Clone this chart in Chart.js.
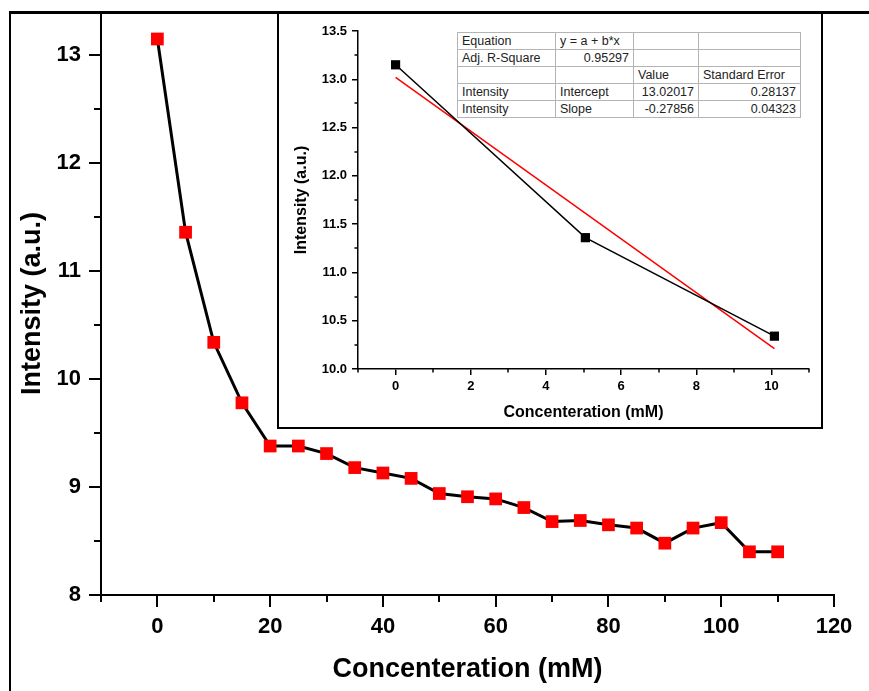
<!DOCTYPE html>
<html>
<head>
<meta charset="utf-8">
<script src="https://cdn.jsdelivr.net/npm/chart.js@4.4.0/dist/chart.umd.min.js"></script>
<style>
    body { margin: 0; background: #fff; }
    #page { position: relative; width: 869px; height: 691px; overflow: hidden; background: #fff; }
    #frame { position: absolute; left: 9px; top: 11px; width: 860px; height: 680px;
             border-left: 2px solid #000; border-top: 3px solid #000; }
    #mainChart { position: absolute; left: 0; top: 0; }
    #insetBox { position: absolute; left: 277px; top: 12px; width: 542px; height: 413px;
                border: 2px solid #000; background: #fff; }
    #insetChart { position: absolute; left: 0; top: 0; }
    #fitTable { position: absolute; left: 178px; top: 18px; border-collapse: collapse;
                font-family: "Liberation Sans", Arial, sans-serif; font-size: 12.5px; color: #222;
                background: #fff; table-layout: fixed; }
    #fitTable td { border: 1px solid #b4b4b4; height: 16px; padding: 0 4px; line-height: 16px;
                   white-space: nowrap; overflow: hidden; }
    #fitTable td.num { text-align: right; }
</style>
</head>
<body>
<div id="page">
    <div id="frame"></div>
    <canvas id="mainChart" width="869" height="691"></canvas>
    <div id="insetBox">
        <canvas id="insetChart" width="542" height="413"></canvas>
        <table id="fitTable">
            <colgroup><col style="width:98px"><col style="width:78px"><col style="width:65px"><col style="width:102px"></colgroup>
            <tbody id="fitBody"></tbody>
        </table>
    </div>
</div>
<script>
// main plot data
const concentration = [0, 5, 10, 15, 20, 25, 30, 35, 40, 45, 50, 55, 60, 65, 70, 75, 80, 85, 90, 95, 100, 105, 110];
const intensity = [13.15, 11.36, 10.34, 9.78, 9.38, 9.38, 9.31, 9.18, 9.13, 9.08, 8.94, 8.91, 8.89, 8.81,
                   8.68, 8.69, 8.65, 8.62, 8.48, 8.62, 8.67, 8.40, 8.40];
const mainXTicks = [0, 20, 40, 60, 80, 100, 120];
const mainXMinor = [-10, 10, 30, 50, 70, 90, 110];
const mainYTicks = [8, 9, 10, 11, 12, 13];
const mainYMinor = [8.5, 9.5, 10.5, 11.5, 12.5];

// inset data (first three points + linear fit)
const insetConc = [0, 5.05, 10.08];
const insetIntensity = [13.15, 11.36, 10.34];
const fitConc = [0, 10.08];
const fitIntensity = [13.02, 10.21];
const insetXTicks = [0, 2, 4, 6, 8, 10];
const insetXMinor = [-1, 1, 3, 5, 7, 9, 11];
const insetYTicks = [10.0, 10.5, 11.0, 11.5, 12.0, 12.5, 13.0, 13.5];
const insetYMinor = [10.25, 10.75, 11.25, 11.75, 12.25, 12.75, 13.25];

// fit table
const tableRows = [
    ['Equation', 'y = a + b*x', '', ''],
    ['Adj. R-Square', '0.95297', '', ''],
    ['', '', 'Value', 'Standard Error'],
    ['Intensity', 'Intercept', '13.02017', '0.28137'],
    ['Intensity', 'Slope', '-0.27856', '0.04323']
];

const FONT = '"Liberation Sans", Arial, sans-serif';

const toPoints = (xs, ys) => xs.map((x, i) => ({ x: x, y: ys[i] }));

// draws the short minor ticks outside the axes
const minorTicks = {
    id: 'minorTicks',
    afterDraw(chart, args, opts) {
        const ctx = chart.ctx;
        const xs = chart.scales.x;
        const ys = chart.scales.y;
        ctx.save();
        ctx.strokeStyle = '#000';
        ctx.lineWidth = opts.width;
        ctx.beginPath();
        opts.x.forEach(v => {
            const px = Math.round(xs.getPixelForValue(v));
            ctx.moveTo(px, xs.top);
            ctx.lineTo(px, xs.top + opts.len);
        });
        opts.y.forEach(v => {
            const py = Math.round(ys.getPixelForValue(v));
            ctx.moveTo(ys.right, py);
            ctx.lineTo(ys.right - opts.len, py);
        });
        ctx.stroke();
        ctx.restore();
    }
};

function axis(opt) {
    return {
        type: 'linear',
        position: opt.position,
        min: opt.min,
        max: opt.max,
        afterBuildTicks: scale => { scale.ticks = opt.ticks.map(v => ({ value: v })); },
        afterFit: scale => {
            if (opt.position === 'left') scale.width = opt.size;
            else scale.height = opt.size;
            // no extra room for label overhang, the plot edges are fixed by layout padding
            scale.paddingTop = 0;
            scale.paddingBottom = 0;
            scale.paddingLeft = 0;
            scale.paddingRight = 0;
        },
        border: { display: true, color: '#000', width: opt.lineWidth },
        grid: { drawOnChartArea: false, color: '#000', lineWidth: opt.lineWidth, tickLength: opt.tickLength },
        ticks: {
            color: '#000',
            padding: opt.padding,
            font: { family: FONT, size: opt.fontSize, weight: 'bold' },
            callback: opt.format
        },
        title: {
            display: true,
            text: opt.title,
            color: '#000',
            font: { family: FONT, size: opt.titleSize, weight: 'bold' },
            padding: opt.titlePadding
        }
    };
}

new Chart(document.getElementById('mainChart'), {
    type: 'scatter',
    data: {
        datasets: [{
            data: toPoints(concentration, intensity),
            showLine: true,
            borderColor: '#000',
            borderWidth: 3,
            pointStyle: 'rect',
            pointRadius: 9,
            pointBorderWidth: 0,
            pointBackgroundColor: '#ff0000',
            clip: false
        }]
    },
    options: {
        responsive: false,
        animation: false,
        devicePixelRatio: 1,
        layout: { padding: { top: 12, right: 35, left: 0, bottom: 0 } },
        plugins: {
            legend: { display: false },
            tooltip: { enabled: false },
            minorTicks: { x: mainXMinor, y: mainYMinor, len: 7, width: 2 }
        },
        scales: {
            x: axis({ position: 'bottom', min: -10, max: 120, ticks: mainXTicks, size: 96, lineWidth: 2,
                      tickLength: 12, padding: 7, fontSize: 22, title: 'Concenteration (mM)', titleSize: 27,
                      titlePadding: { top: 0, bottom: 5 }, format: v => String(v) }),
            y: axis({ position: 'left', min: 8, max: 13.4, ticks: mainYTicks, size: 101, lineWidth: 2,
                      tickLength: 12, padding: 8, fontSize: 22, title: 'Intensity (a.u.)', titleSize: 27,
                      titlePadding: { top: 16, bottom: 0 }, format: v => String(v) })
        }
    },
    plugins: [minorTicks]
});

new Chart(document.getElementById('insetChart'), {
    type: 'scatter',
    data: {
        datasets: [
            {
                data: toPoints(insetConc, insetIntensity),
                showLine: true,
                borderColor: '#000',
                borderWidth: 1.5,
                pointStyle: 'rect',
                pointRadius: 6.5,
                pointBorderWidth: 0,
                pointBackgroundColor: '#000',
                clip: false
            },
            {
                data: toPoints(fitConc, fitIntensity),
                showLine: true,
                borderColor: '#ff0000',
                borderWidth: 1.5,
                pointRadius: 0,
                clip: false
            }
        ]
    },
    options: {
        responsive: false,
        animation: false,
        devicePixelRatio: 1,
        layout: { padding: { top: 17, right: 12, left: 0, bottom: 0 } },
        plugins: {
            legend: { display: false },
            tooltip: { enabled: false },
            minorTicks: { x: insetXMinor, y: insetYMinor, len: 3.5, width: 1.5 }
        },
        scales: {
            x: axis({ position: 'bottom', min: -1, max: 11, ticks: insetXTicks, size: 58, lineWidth: 1.5,
                      tickLength: 6, padding: 4, fontSize: 13, title: 'Concenteration (mM)', titleSize: 16,
                      titlePadding: { top: 0, bottom: 5 }, format: v => String(v) }),
            y: axis({ position: 'left', min: 10, max: 13.5, ticks: insetYTicks, size: 79, lineWidth: 1.5,
                      tickLength: 6, padding: 5, fontSize: 13, title: 'Intensity (a.u.)', titleSize: 16,
                      titlePadding: { top: 13, bottom: 0 }, format: v => v.toFixed(1) })
        }
    },
    plugins: [minorTicks]
});

// fill the fit result table
const body = document.getElementById('fitBody');
tableRows.forEach((row, r) => {
    const tr = document.createElement('tr');
    row.forEach((cell, c) => {
        const td = document.createElement('td');
        td.textContent = cell;
        if ((r === 1 && c === 1) || (r >= 3 && c >= 2)) td.className = 'num';
        tr.appendChild(td);
    });
    body.appendChild(tr);
});
</script>
</body>
</html>
